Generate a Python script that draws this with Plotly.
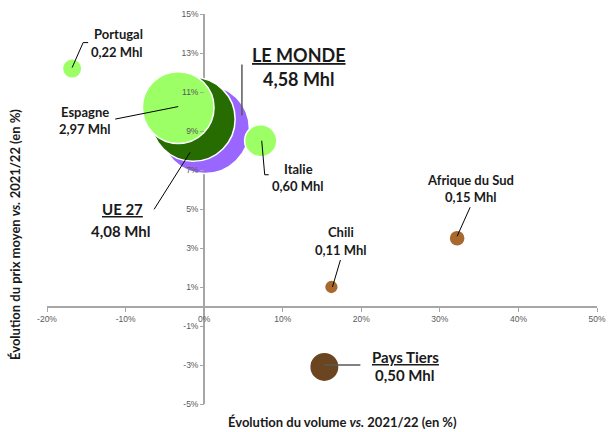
import plotly.graph_objects as go

# données
noms = ["LE MONDE", "UE 27", "Espagne", "Portugal", "Italie", "Chili", "Afrique du Sud", "Pays Tiers"]
evol_volume = [0.1, -1.4, -3.3, -16.8, 7.2, 16.2, 32.2, 15.3]
evol_prix = [9.1, 9.6, 10.2, 12.2, 8.5, 1.0, 3.5, -3.1]
volume_mhl = [4.58, 4.08, 2.97, 0.22, 0.60, 0.11, 0.15, 0.50]
volume_txt = ["4,58 Mhl", "4,08 Mhl", "2,97 Mhl", "0,22 Mhl", "0,60 Mhl", "0,11 Mhl", "0,15 Mhl", "0,50 Mhl"]
x_ticks = [-20, -10, 0, 10, 20, 30, 40, 50]
y_ticks = [-5, -3, -1, 1, 3, 5, 7, 9, 11, 13, 15]

couleurs = ["#9966FF", "#276C00", "#9CFF66", "#9CFF66", "#9CFF66", "#A8692E", "#A8692E", "#6A4520"]

# style des étiquettes : (taille, souligné, décalage nom, décalage volume) en pixels écran
style = {
    "LE MONDE": (18, True, (94, -74), (94, -50)),
    "UE 27": (15, True, (-71, 90), (-72, 112)),
    "Espagne": (13, False, (-93, 4.5), (-93, 21.5)),
    "Portugal": (13, False, (46, -35), (45, -17)),
    "Italie": (13, False, (37.5, 28), (37, 45)),
    "Chili": (13, False, (10, -55), (9.5, -37)),
    "Afrique du Sud": (13, False, (13.5, -58), (13.5, -41)),
    "Pays Tiers": (15, True, (81, -9.5), (81, 8)),
}
# traits de rappel, en pixels écran relatifs au centre de la bulle
traits = {
    "LE MONDE": ([(37, -64.5), (37, -13.5)], "#595959", 1.5),
    "UE 27": ([(-39, 90), (-3, 33)], "black", 1),
    "Espagne": ([(-63, 11.5), (0, -1)], "black", 1),
    "Portugal": ([(0, -1), (11, -26), (16, -26)], "black", 1),
    "Italie": ([(1, 0), (4, 34), (8, 34)], "black", 1),
    "Chili": ([(9, -27), (1, 0)], "black", 1),
    "Afrique du Sud": ([(13, -31), (0, -2)], "black", 1),
    "Pays Tiers": ([(0, -2), (36, -2)], "#595959", 1.5),
}

fig = go.Figure()
fig.add_trace(go.Scatter(
    x=evol_volume, y=evol_prix, mode="markers",
    marker=dict(size=volume_mhl, sizemode="area", sizeref=2 * max(volume_mhl) / 89 ** 2,
                color=couleurs, opacity=1, line=dict(color="white", width=1.5)),
    hoverinfo="skip", showlegend=False))

police = "Lato"
for i, nom in enumerate(noms):
    taille, souligne, (nx, ny), (vx, vy) = style[nom]
    txt = "<u>" + nom + "</u>" if souligne else nom
    fig.add_annotation(x=evol_volume[i], y=evol_prix[i], xref="x", yref="y", text="<b>" + txt + "</b>",
                       showarrow=False, xshift=nx, yshift=-ny, xanchor="center", yanchor="middle",
                       font=dict(family=police, size=taille, color="#1a1a1a"))
    fig.add_annotation(x=evol_volume[i], y=evol_prix[i], xref="x", yref="y", text="<b>" + volume_txt[i] + "</b>",
                       showarrow=False, xshift=vx, yshift=-vy, xanchor="center", yanchor="middle",
                       font=dict(family=police, size=taille, color="#1a1a1a"))
    pts, col, w = traits[nom]
    path = "M " + " L ".join("%g,%g" % (px, -py) for px, py in pts)
    fig.add_shape(type="path", path=path, xref="x", yref="y", xsizemode="pixel", ysizemode="pixel",
                  xanchor=evol_volume[i], yanchor=evol_prix[i], line=dict(color=col, width=w), layer="above")

fig.add_annotation(x=0.537, y=-0.045, xref="paper", yref="paper", showarrow=False,
                   text="<b>Évolution du volume <i>vs.</i> 2021/22 (en %)</b>",
                   font=dict(family=police, size=13, color="#1a1a1a"), xanchor="center", yanchor="middle")
fig.add_annotation(x=-0.057, y=0.435, xref="paper", yref="paper", showarrow=False, textangle=-90,
                   text="<b>Évolution du prix moyen <i>vs.</i> 2021/22 (en %)</b>",
                   font=dict(family=police, size=13, color="#1a1a1a"), xanchor="center", yanchor="middle")

axe = dict(showgrid=False, zeroline=True, zerolinecolor="#A6A6A6", zerolinewidth=1.5, showline=False,
           ticks="outside", ticklen=4, tickcolor="#A6A6A6", anchor="free", ticklabeloverflow="allow",
           tickfont=dict(family="Liberation Sans", size=8.5, color="#595959"))
fig.update_xaxes(axe, range=[-20, 50], tickvals=x_ticks, ticktext=["%d%%" % v for v in x_ticks], position=0.25)
fig.update_yaxes(axe, range=[-5, 15], tickvals=y_ticks, ticktext=["%d%%" % v for v in y_ticks],
                 position=20 / 70)

fig.update_layout(width=614, height=432, margin=dict(l=47, r=8, t=14, b=28),
                  plot_bgcolor="white", paper_bgcolor="white")
# pas de marge de page autour de la figure
fig.write_html("out.html", config={"displayModeBar": False},
               post_script="document.body.style.margin = '0';")
